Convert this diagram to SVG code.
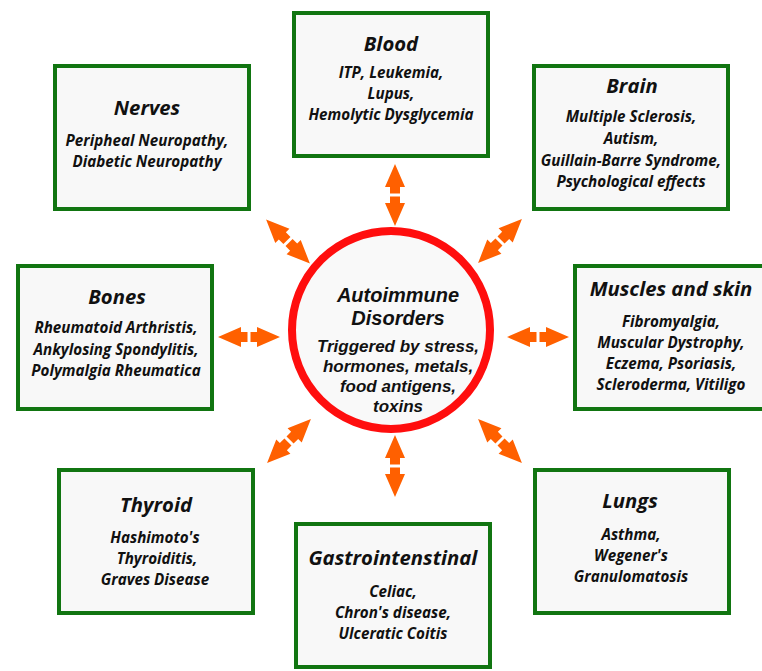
<svg xmlns="http://www.w3.org/2000/svg" xmlns:xlink="http://www.w3.org/1999/xlink" width="762" height="671" viewBox="0 0 762 671">
<defs>
<style>
.box{fill:#f8f8f8;stroke:#117511;stroke-width:4}
.t{font-family:"Open Sans",Lato,sans-serif;font-weight:bold;font-style:italic;fill:#111;text-anchor:middle}
.h{font-size:20.3px}
.b{font-size:15.2px}
.c{font-family:"Liberation Sans",Arial,sans-serif;font-weight:bold;font-style:italic;fill:#111;text-anchor:middle}
.arr{fill:#ff6000}
</style>
<path id="dbl" class="arr" d="M-31,0 L-8,-10 L-8,-5 L-1.5,-5 L-1.5,5 L-8,5 L-8,10 Z M31,0 L8,-10 L8,-5 L1.5,-5 L1.5,5 L8,5 L8,10 Z"/>
</defs>
<rect width="762" height="671" fill="#ffffff"/>

<g id="connectors">
<use href="#dbl" transform="translate(395,195) rotate(90)"/>
<use href="#dbl" transform="translate(395,466) rotate(90)"/>
<use href="#dbl" transform="translate(249,337)"/>
<use href="#dbl" transform="translate(538,337)"/>
<use href="#dbl" transform="translate(288,241.5) rotate(45)"/>
<use href="#dbl" transform="translate(500,241) rotate(-45)"/>
<use href="#dbl" transform="translate(289,441) rotate(-45)"/>
<use href="#dbl" transform="translate(500,441) rotate(45)"/>
</g>

<g id="center">
<circle cx="391" cy="330" r="99" fill="#f9f9f9" stroke="#ff0e0e" stroke-width="8"/>
<text class="c" font-size="20" x="398" y="302">Autoimmune</text>
<text class="c" font-size="20" x="398" y="325">Disorders</text>
<text class="c" font-size="17" x="398" y="352">Triggered by stress,</text>
<text class="c" font-size="17" x="398" y="372">hormones, metals,</text>
<text class="c" font-size="17" x="398" y="392">food antigens,</text>
<text class="c" font-size="17" x="398" y="412">toxins</text>
</g>

<g id="blood">
<rect class="box" x="294" y="13" width="194" height="143"/>
<text class="t h" x="391" y="51">Blood</text>
<text class="t b" x="391" y="78">ITP, Leukemia,</text>
<text class="t b" x="391" y="99">Lupus,</text>
<text class="t b" x="391" y="120">Hemolytic Dysglycemia</text>
</g>

<g id="nerves">
<rect class="box" x="55" y="66" width="194" height="143"/>
<text class="t h" x="147" y="115">Nerves</text>
<text class="t b" x="147" y="146">Peripheal Neuropathy,</text>
<text class="t b" x="147" y="167">Diabetic Neuropathy</text>
</g>

<g id="brain">
<rect class="box" x="534" y="66" width="194" height="143"/>
<text class="t h" x="632" y="93">Brain</text>
<text class="t b" x="631" y="122">Multiple Sclerosis,</text>
<text class="t b" x="631" y="144">Autism,</text>
<text class="t b" x="631" y="166">Guillain-Barre Syndrome,</text>
<text class="t b" x="631" y="187">Psychological effects</text>
</g>

<g id="bones">
<rect class="box" x="18" y="266" width="194" height="143"/>
<text class="t h" x="117" y="304">Bones</text>
<text class="t b" x="116" y="333">Rheumatoid Arthristis,</text>
<text class="t b" x="116" y="355">Ankylosing Spondylitis,</text>
<text class="t b" x="116" y="376">Polymalgia Rheumatica</text>
</g>

<g id="muscles">
<rect class="box" x="575" y="266" width="194" height="143"/>
<text class="t h" x="671" y="296">Muscles and skin</text>
<text class="t b" x="671" y="327">Fibromyalgia,</text>
<text class="t b" x="671" y="348">Muscular Dystrophy,</text>
<text class="t b" x="671" y="369">Eczema, Psoriasis,</text>
<text class="t b" x="671" y="390">Scleroderma, Vitiligo</text>
</g>

<g id="thyroid">
<rect class="box" x="59" y="470" width="194" height="143"/>
<text class="t h" x="156" y="512">Thyroid</text>
<text class="t b" x="155" y="543">Hashimoto's</text>
<text class="t b" x="157" y="564">Thyroiditis,</text>
<text class="t b" x="155" y="585">Graves Disease</text>
</g>

<g id="gastro">
<rect class="box" x="296" y="524" width="194" height="143"/>
<text class="t h" x="393" y="565">Gastrointenstinal</text>
<text class="t b" x="393" y="597">Celiac,</text>
<text class="t b" x="393" y="618">Chron's disease,</text>
<text class="t b" x="393" y="639">Ulceratic Coitis</text>
</g>

<g id="lungs">
<rect class="box" x="535" y="470" width="194" height="143"/>
<text class="t h" x="630" y="508">Lungs</text>
<text class="t b" x="631" y="540">Asthma,</text>
<text class="t b" x="631" y="561">Wegener's</text>
<text class="t b" x="631" y="582">Granulomatosis</text>
</g>
</svg>
